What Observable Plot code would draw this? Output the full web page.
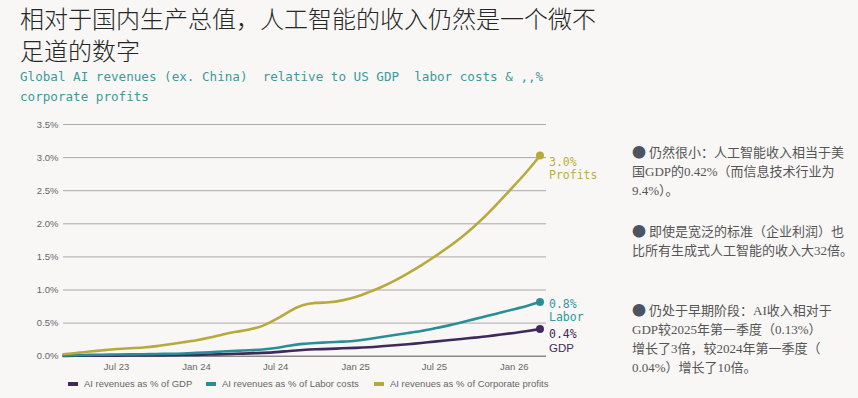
<!DOCTYPE html>
<html><head><meta charset="utf-8">
<script src="https://cdn.jsdelivr.net/npm/d3@7"></script>
<script src="https://cdn.jsdelivr.net/npm/@observablehq/plot@0.6"></script>
<style>
body{margin:0;background:#f8f7f5;width:858px;height:398px;overflow:hidden;position:relative;font-family:"Noto Sans CJK SC",sans-serif}
#title{position:absolute;left:20px;top:2px;width:640px;font-size:24px;line-height:32px;color:#262626;font-weight:300;white-space:nowrap}
#sub{position:absolute;left:20px;top:67px;font-family:"DejaVu Sans Mono",monospace;font-size:12.6px;line-height:20px;color:#3b9a9c;white-space:pre}
#chart{position:absolute;left:0;top:110px}
.lg{position:absolute;top:378px;font-family:"Liberation Sans",Arial,sans-serif;font-size:9.5px;color:#666;white-space:nowrap;display:flex;align-items:center}
.lg span.sw{display:inline-block;width:10px;height:4px;margin-right:6px}
#notes{position:absolute;left:632px;top:143px;font-family:"Liberation Serif","Noto Sans CJK SC",serif;font-size:13px;line-height:19px;color:#555;white-space:nowrap}
#notes p{margin:0;position:absolute;left:0}
#notes .b{font-family:"Noto Sans CJK SC",sans-serif;font-size:14px;line-height:0;color:#4b5561;margin-right:3px}
</style></head>
<body>
<div id="title">相对于国内生产总值，人工智能的收入仍然是一个微不<br>足道的数字</div>
<div id="sub">Global AI revenues (ex. China)  relative to US GDP  labor costs & ,,%
corporate profits</div>
<div id="chart"></div>
<div id="legend"></div>
<div id="notes">
<p style="top:0px"><span class="b">●</span>仍然很小：人工智能收入相当于美<br>国GDP的0.42%（而信息技术行业为<br>9.4%）。</p>
<p style="top:79px"><span class="b">●</span>即使是宽泛的标准（企业利润）也<br>比所有生成式人工智能的收入大32倍。</p>
<p style="top:158px"><span class="b">●</span>仍处于早期阶段：AI收入相对于<br>GDP较2025年第一季度（0.13%）<br>增长了3倍，较2024年第一季度（<br>0.04%）增长了10倍。</p>
</div>
<script>
const months = ["2023-03-01","2023-04-01","2023-05-01","2023-06-01","2023-07-01","2023-08-01","2023-09-01","2023-10-01","2023-11-01","2023-12-01",
"2024-01-01","2024-02-01","2024-03-01","2024-04-01","2024-05-01","2024-06-01","2024-07-01","2024-08-01","2024-09-01","2024-10-01","2024-11-01","2024-12-01",
"2025-01-01","2025-02-01","2025-03-01","2025-04-01","2025-05-01","2025-06-01","2025-07-01","2025-08-01","2025-09-01","2025-10-01","2025-11-01","2025-12-01",
"2026-01-01","2026-02-01","2026-03-01"];
const gdp = [0.005,0.006,0.007,0.008,0.009,0.010,0.011,0.012,0.014,0.017,
0.020,0.025,0.030,0.036,0.042,0.050,0.060,0.080,0.095,0.105,0.110,0.120,
0.125,0.135,0.150,0.165,0.180,0.200,0.220,0.240,0.260,0.280,0.300,0.330,
0.350,0.380,0.410];
const labor = [0.010,0.015,0.020,0.022,0.025,0.028,0.030,0.033,0.036,0.040,
0.050,0.060,0.070,0.080,0.090,0.100,0.120,0.160,0.190,0.200,0.210,0.220,
0.230,0.260,0.290,0.320,0.350,0.380,0.420,0.460,0.510,0.560,0.610,0.660,
0.710,0.760,0.820];
const profits = [0.03,0.05,0.07,0.09,0.11,0.12,0.13,0.15,0.18,0.21,
0.24,0.28,0.33,0.37,0.40,0.45,0.55,0.68,0.78,0.81,0.81,0.84,
0.89,0.97,1.04,1.14,1.25,1.37,1.50,1.64,1.79,1.96,2.15,2.36,
2.58,2.80,3.03];
const seriesNames = ["GDP","Labor","Profits"];
const legendLabels = ["AI revenues as % of GDP","AI revenues as % of Labor costs","AI revenues as % of Corporate profits"];
const endLabels = ["0.4%","0.8%","3.0%"];
const yTicks = [0,0.5,1,1.5,2,2.5,3,3.5];
const xTicks = ["2023-07-01","2024-01-01","2024-07-01","2025-01-01","2025-07-01","2026-01-01"];
const colors = ["#3f2b5b","#2a8e96","#b7aa3c"];
const textColors = ["#3f2b5b","#2f9aa2","#bdad48"];

const values = [gdp, labor, profits];
const rows = [];
seriesNames.forEach((s, k) => months.forEach((m, i) => rows.push({series: s, date: new Date(m), value: values[k][i]})));
const last = seriesNames.map((s, k) => ({series: s, date: new Date(months[months.length-1]), value: values[k][months.length-1], label: endLabels[k], k}));

// label vertical offsets (px) relative to end dot: [value line, name line]
const offs = [[5, 19], [2, 15], [7, 20]];
const nameFonts = ["Liberation Sans, Arial, sans-serif", "DejaVu Sans Mono, monospace", "DejaVu Sans Mono, monospace"];
const labelMarks = [];
last.forEach((d, k) => {
  labelMarks.push(Plot.text([d], {x: "date", y: "value", text: "label", fill: textColors[k], dx: 9, dy: offs[k][0], textAnchor: "start", fontFamily: "DejaVu Sans Mono, monospace", fontSize: 11.5}));
  labelMarks.push(Plot.text([d], {x: "date", y: "value", text: "series", fill: textColors[k], dx: 9, dy: offs[k][1], textAnchor: "start", fontFamily: nameFonts[k], fontSize: 11.5}));
});

const chart = Plot.plot({
  width: 610, height: 270,
  marginLeft: 63, marginRight: 64, marginTop: 14, marginBottom: 24.3,
  style: {background: "transparent", fontFamily: "Liberation Sans, Arial, sans-serif", fontSize: "9.5px", color: "#666"},
  x: {type: "utc", domain: [new Date("2023-03-01"), new Date("2026-03-16")]},
  y: {domain: [0, 3.5]},
  color: {domain: seriesNames, range: colors},
  marks: [
    Plot.ruleY(yTicks.filter(d => d > 0), {stroke: "#a9a9a9", strokeWidth: 1}),
    Plot.ruleY([0], {stroke: "#8a8a8a", strokeWidth: 1.6}),
    Plot.axisY({ticks: yTicks, tickFormat: d => d.toFixed(1) + "%", tickSize: 0, tickPadding: 5, label: null}),
    Plot.axisX({ticks: xTicks.map(d => new Date(d)), tickFormat: d3.utcFormat("%b %y"), tickSize: 0, tickPadding: 7, label: null}),
    Plot.line(rows, {x: "date", y: "value", stroke: "series", z: "series", strokeWidth: 2.6, curve: "basis"}),
    Plot.dot(last, {x: "date", y: "value", fill: "series", r: 4}),
    ...labelMarks
  ]
});
document.getElementById("chart").appendChild(chart);

const legendX = [68, 206, 374];
const lg = document.getElementById("legend");
seriesNames.forEach((s, k) => {
  const el = document.createElement("div");
  el.className = "lg";
  el.style.left = legendX[k] + "px";
  el.innerHTML = `<span class="sw" style="background:${colors[k]}"></span>${legendLabels[k]}`;
  lg.appendChild(el);
});
</script>
</body></html>
